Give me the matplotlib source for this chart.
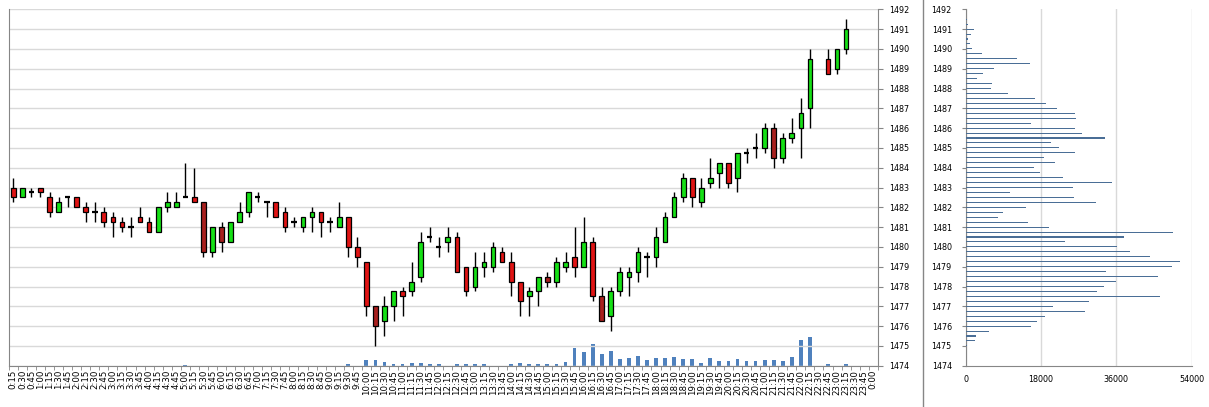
import numpy as np
import matplotlib
matplotlib.use("Agg")
import matplotlib.pyplot as plt
from matplotlib.lines import Line2D

nan = np.nan

time_labels = [
    "0:15", "0:30", "0:45", "1:00", "1:15", "1:30", "1:45", "2:00",
    "2:15", "2:30", "2:45", "3:00", "3:15", "3:30", "3:45", "4:00",
    "4:15", "4:30", "4:45", "5:00", "5:15", "5:30", "5:45", "6:00",
    "6:15", "6:30", "6:45", "7:00", "7:15", "7:30", "7:45", "8:00",
    "8:15", "8:30", "8:45", "9:00", "9:15", "9:30", "9:45", "10:00",
    "10:15", "10:30", "10:45", "11:00", "11:15", "11:30", "11:45", "12:00",
    "12:15", "12:30", "12:45", "13:00", "13:15", "13:30", "13:45", "14:00",
    "14:15", "14:30", "14:45", "15:00", "15:15", "15:30", "15:45", "16:00",
    "16:15", "16:30", "16:45", "17:00", "17:15", "17:30", "17:45", "18:00",
    "18:15", "18:30", "18:45", "19:00", "19:15", "19:30", "19:45", "20:00",
    "20:15", "20:30", "20:45", "21:00", "21:15", "21:30", "21:45", "22:00",
    "22:15", "22:30", "22:45", "23:00", "23:15", "23:30", "23:45", "0:00",
]

opens = [
    1483.0, 1482.5, 1482.75, 1483.0, 1482.5, 1481.75, 1482.5, 1482.5,
    1482.0, 1481.75, 1481.75, 1481.5, 1481.25, 1481.0, 1481.5, 1481.25,
    1480.75, 1482.0, 1482.0, 1482.5, 1482.5, 1482.25, 1479.75, 1481.0,
    1480.25, 1481.25, 1481.75, 1482.5, 1482.25, 1482.25, 1481.75, 1481.25,
    1481.0, 1481.5, 1481.75, 1481.25, 1481.0, 1481.5, 1480.0, 1479.25,
    1477.0, 1476.25, 1477.0, 1477.75, 1477.75, 1478.5, 1480.5, 1480.0,
    1480.25, 1480.5, 1479.0, 1478.0, 1479.0, 1479.0, 1479.75, 1479.25,
    1478.25, 1477.5, 1477.75, 1478.5, 1478.25, 1479.0, 1479.5, 1479.0,
    1480.25, 1477.5, 1476.5, 1477.75, 1478.5, 1478.75, 1479.5, 1479.5,
    1480.25, 1481.5, 1482.5, 1483.5, 1482.25, 1483.25, 1483.75, 1484.25,
    1483.5, 1484.75, 1485.0, 1485.0, 1486.0, 1484.5, 1485.5, 1486.0,
    1487.0, nan, 1489.5, 1489.0, 1490.0, nan, nan, nan,
]
highs = [
    1483.5, 1483.0, 1483.0, 1483.0, 1482.75, 1482.5, 1482.5, 1482.5,
    1482.25, 1482.25, 1482.0, 1481.75, 1481.5, 1481.5, 1482.0, 1481.5,
    1482.0, 1482.75, 1482.75, 1484.25, 1484.0, 1482.25, 1481.0, 1481.25,
    1481.25, 1482.25, 1482.75, 1482.75, 1482.25, 1482.25, 1482.0, 1481.5,
    1481.5, 1482.0, 1481.75, 1481.5, 1482.25, 1481.5, 1480.5, 1479.25,
    1477.0, 1477.5, 1477.75, 1478.0, 1479.25, 1480.75, 1481.0, 1480.5,
    1481.0, 1480.75, 1479.0, 1479.75, 1479.75, 1480.25, 1480.0, 1479.75,
    1478.25, 1478.0, 1478.5, 1478.75, 1479.5, 1479.75, 1481.0, 1481.5,
    1480.5, 1478.0, 1478.0, 1479.0, 1479.0, 1480.0, 1479.75, 1481.0,
    1481.75, 1482.75, 1483.75, 1483.5, 1483.5, 1484.5, 1484.25, 1484.25,
    1484.75, 1485.0, 1485.75, 1486.25, 1486.25, 1485.75, 1486.5, 1487.5,
    1490.0, nan, 1490.0, 1490.0, 1491.5, nan, nan, nan,
]
lows = [
    1482.25, 1482.5, 1482.5, 1482.5, 1481.5, 1481.75, 1482.0, 1482.0,
    1481.25, 1481.25, 1481.0, 1480.5, 1480.75, 1480.5, 1481.25, 1480.75,
    1480.75, 1481.75, 1482.0, 1482.5, 1482.25, 1479.5, 1479.5, 1479.75,
    1480.25, 1481.25, 1481.5, 1482.25, 1481.5, 1481.5, 1480.75, 1481.0,
    1480.75, 1480.75, 1480.5, 1480.75, 1481.0, 1479.5, 1479.0, 1476.5,
    1475.0, 1475.5, 1476.25, 1476.5, 1477.5, 1478.25, 1480.25, 1479.5,
    1479.75, 1478.75, 1477.5, 1477.75, 1478.5, 1478.75, 1479.25, 1477.5,
    1476.5, 1476.5, 1477.0, 1478.0, 1478.0, 1478.75, 1478.5, 1479.0,
    1477.25, 1476.25, 1475.75, 1477.5, 1477.5, 1478.25, 1478.5, 1479.0,
    1480.25, 1481.5, 1482.25, 1482.0, 1482.0, 1483.0, 1483.0, 1483.0,
    1482.75, 1484.25, 1484.5, 1484.75, 1484.0, 1484.25, 1485.25, 1484.5,
    1486.0, nan, 1488.75, 1488.75, 1489.75, nan, nan, nan,
]
closes = [
    1482.5, 1483.0, 1482.75, 1482.75, 1481.75, 1482.25, 1482.5, 1482.0,
    1481.75, 1481.75, 1481.25, 1481.25, 1481.0, 1481.0, 1481.25, 1480.75,
    1482.0, 1482.25, 1482.25, 1482.5, 1482.25, 1479.75, 1481.0, 1480.25,
    1481.25, 1481.75, 1482.75, 1482.5, 1482.25, 1481.5, 1481.0, 1481.25,
    1481.5, 1481.75, 1481.25, 1481.25, 1481.5, 1480.0, 1479.5, 1477.0,
    1476.0, 1477.0, 1477.75, 1477.5, 1478.25, 1480.25, 1480.5, 1480.0,
    1480.5, 1478.75, 1477.75, 1479.0, 1479.25, 1480.0, 1479.25, 1478.25,
    1477.25, 1477.75, 1478.5, 1478.25, 1479.25, 1479.25, 1479.0, 1480.25,
    1477.5, 1476.25, 1477.75, 1478.75, 1478.75, 1479.75, 1479.5, 1480.5,
    1481.5, 1482.5, 1483.5, 1482.5, 1483.0, 1483.5, 1484.25, 1483.25,
    1484.75, 1484.75, 1485.0, 1486.0, 1484.5, 1485.5, 1485.75, 1486.75,
    1489.5, nan, 1488.75, 1490.0, 1491.0, nan, nan, nan,
]
volumes = [
    0, 0, 0, 0, 0, 0, 0, 0,
    0, 0, 0, 0, 0, 0, 0, 0,
    0, 0, 0, 2500, 0, 0, 0, 0,
    0, 0, 0, 0, 0, 0, 0, 0,
    0, 0, 0, 0, 0, 5000, 0, 23000,
    23000, 15000, 5000, 5000, 9000, 9000, 5000, 5000,
    0, 5000, 5000, 5000, 5000, 0, 0, 5000,
    9000, 5000, 5000, 5000, 5000, 15000, 69000, 55000,
    87000, 47000, 60000, 27000, 32000, 39000, 23000, 32000,
    32000, 35000, 27000, 27000, 11000, 32000, 19000, 19000,
    27000, 19000, 19000, 23000, 23000, 19000, 35000, 103000,
    115000, 0, 7000, 0, 7000, 0, 0, 0,
]

profile_prices = [
    1491.5, 1491.25, 1491.0, 1490.75, 1490.5, 1490.25, 1490.0, 1489.75,
    1489.5, 1489.25, 1489.0, 1488.75, 1488.5, 1488.25, 1488.0, 1487.75,
    1487.5, 1487.25, 1487.0, 1486.75, 1486.5, 1486.25, 1486.0, 1485.75,
    1485.5, 1485.25, 1485.0, 1484.75, 1484.5, 1484.25, 1484.0, 1483.75,
    1483.5, 1483.25, 1483.0, 1482.75, 1482.5, 1482.25, 1482.0, 1481.75,
    1481.5, 1481.25, 1481.0, 1480.75, 1480.5, 1480.25, 1480.0, 1479.75,
    1479.5, 1479.25, 1479.0, 1478.75, 1478.5, 1478.25, 1478.0, 1477.75,
    1477.5, 1477.25, 1477.0, 1476.75, 1476.5, 1476.25, 1476.0, 1475.75,
    1475.5, 1475.25, 1475.0,
]
profile_volumes = [
    300, 600, 1900, 1200, 500, 1000, 1400, 3900,
    12200, 15300, 6700, 4100, 2600, 6200, 6000, 10000,
    16500, 19100, 21700, 26100, 26300, 15500, 26100, 27700,
    33200, 20300, 22200, 26100, 18600, 21300, 16200, 17700,
    23200, 34900, 25600, 10500, 25800, 31100, 14300, 8800,
    7600, 14800, 19800, 49500, 37800, 23700, 36100, 39200,
    44000, 51100, 49200, 33500, 45900, 35800, 33000, 31300,
    46400, 29400, 20800, 28400, 18900, 17000, 15500, 5500,
    2400, 2200, 300,
]

price_ticks = list(range(1474, 1493))
profile_ticks = [0, 18000, 36000, 54000]

# darker red candles seen in the reference
dark_red_idx = {21, 23, 40, 59, 65, 84}

GREEN = "#16E016"
RED = "#E01414"
DARK_RED = "#A8201E"
GRID = "#D9D9D9"
SPINE = "#868686"
VOL = "#4F81BD"
PROF = "#4A6E96"

W, H = 1209, 407
fig = plt.figure(figsize=(W / 100, H / 100), dpi=100)

def frac(x0, y0, x1, y1):
    return [x0 / W, 1 - y1 / H, (x1 - x0) / W, (y1 - y0) / H]

ax = fig.add_axes(frac(8.8, 9.3, 877.8, 365.7))
ax2 = ax.twinx()

x = np.arange(len(time_labels))
o = np.array(opens); h = np.array(highs); l = np.array(lows); c = np.array(closes)
valid = ~np.isnan(o)

# volume bars (secondary scale)
ax2.bar(x, volumes, width=0.42, color=VOL, zorder=1)
ax2.set_ylim(0, 1425000)
ax2.set_yticks([])
for s in ax2.spines.values():
    s.set_visible(False)

# wicks
ax.vlines(x[valid], l[valid], h[valid], color="black", lw=1.0, zorder=3)
# bodies
colors = []
for i in range(len(x)):
    if not valid[i]:
        colors.append("none")
    elif c[i] >= o[i]:
        colors.append(GREEN)
    else:
        colors.append(DARK_RED if i in dark_red_idx else RED)
bottoms = np.where(valid, np.minimum(o, c), 0)
heights = np.where(valid, np.abs(c - o), 0)
body = heights > 0
ax.bar(x[body], heights[body], bottom=bottoms[body], width=0.52,
       color=[colors[i] for i in x[body]], edgecolor="black", linewidth=0.9,
       zorder=4)
doji = valid & ~body
ax.hlines(o[doji], x[doji] - 0.3, x[doji] + 0.3, color="black", lw=1.6, zorder=4)

ax.set_xlim(-0.5, 95.5)
ax.set_ylim(1474, 1492)
ax.set_yticks(price_ticks)
ax.yaxis.tick_right()
ax.tick_params(axis="y", which="major", length=3.5, pad=5, labelsize=5.8,
               color=SPINE, labelcolor="black", left=False, right=True)
ax.set_xticks(x)
ax.set_xticklabels(time_labels, rotation=90, fontsize=6.2)
ax.tick_params(axis="x", which="major", length=0, pad=3)
ax.set_xticks(np.arange(-0.5, 96, 1), minor=True)
ax.tick_params(axis="x", which="minor", length=3, color=SPINE)
ax.grid(axis="y", color=GRID, lw=1.0, zorder=0)
ax.set_axisbelow(True)
ax.spines["top"].set_visible(False)
for side in ("left", "right", "bottom"):
    ax.spines[side].set_color(SPINE)
ax.set_zorder(2)
ax.patch.set_visible(False)
ax2.set_zorder(1)

# profile panel
axp = fig.add_axes(frac(965.7, 9.3, 1191.7, 365.7))
axp.barh(profile_prices, profile_volumes, height=0.055, color=PROF, zorder=3)
axp.set_xlim(0, 54000)
axp.set_ylim(1474, 1492)
axp.set_xticks(profile_ticks)
axp.set_yticks(price_ticks)
axp.tick_params(axis="y", length=3, pad=7, labelsize=5.8, color=SPINE)
axp.tick_params(axis="x", length=0, pad=7, labelsize=5.8)
axp.grid(axis="x", color=GRID, lw=1.0, zorder=0)
axp.set_axisbelow(True)
axp.spines["top"].set_visible(False)
axp.spines["right"].set_visible(False)
axp.spines["left"].set_color(SPINE)
axp.spines["bottom"].set_color(SPINE)

# separator line framing the profile panel
fig.add_artist(Line2D([922.5 / W, 922.5 / W], [0, 1], color=SPINE, lw=1.0))

fig.savefig("out.png", dpi=100)
